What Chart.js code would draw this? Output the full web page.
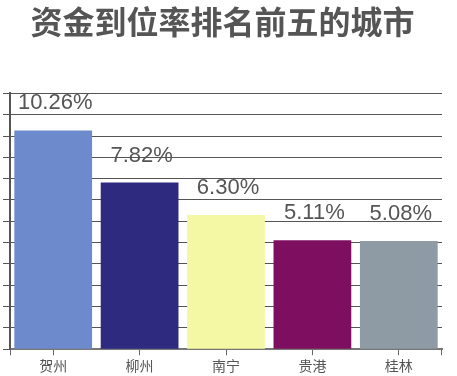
<!DOCTYPE html>
<html>
<head>
<meta charset="utf-8">
<script src="https://cdn.jsdelivr.net/npm/chart.js@4.4.1/dist/chart.umd.min.js"></script>
<style>
  body { margin: 0; background: #fff; }
  #wrap { width: 457px; height: 376px; position: relative; }
</style>
</head>
<body>
<div id="wrap"><canvas id="myChart"></canvas></div>
<script>
// datos
const ciudades = ['贺州', '柳州', '南宁', '贵港', '桂林'];
const valores = [10.26, 7.82, 6.30, 5.11, 5.08];
const colores = ['#6d8bcc', '#2e2a80', '#f4f7a4', '#7e0f60', '#8e9ba4'];
const titulo = '资金到位率排名前五的城市';

// etiquetas encima de cada barra
const etiquetas = {
  id: 'etiquetas',
  afterDatasetsDraw(chart) {
    const ctx = chart.ctx;
    const meta = chart.getDatasetMeta(0);
    ctx.save();
    ctx.fillStyle = '#555';
    ctx.font = '22px "Liberation Sans", Arial, sans-serif';
    ctx.textAlign = 'center';
    ctx.textBaseline = 'alphabetic';
    meta.data.forEach((bar, i) => {
      ctx.fillText(valores[i].toFixed(2) + '%', bar.x + 2, bar.y - 21);
    });
    ctx.restore();
  }
};

// marcas en los extremos del eje x
const extremos = {
  id: 'extremos',
  afterDraw(chart) {
    const ctx = chart.ctx;
    const a = chart.chartArea;
    ctx.save();
    ctx.strokeStyle = '#666';
    ctx.lineWidth = 1;
    ctx.beginPath();
    ctx.moveTo(a.left + 0.5, a.bottom);
    ctx.lineTo(a.left + 0.5, a.bottom + 6);
    ctx.moveTo(a.right - 0.5, a.bottom);
    ctx.lineTo(a.right - 0.5, a.bottom + 6);
    ctx.stroke();
    ctx.restore();
  }
};

const ctx = document.getElementById('myChart').getContext('2d');
let myChart = new Chart(ctx, {
  type: 'bar',
  data: {
    labels: ciudades,
    datasets: [{
      data: valores,
      backgroundColor: colores,
      borderWidth: 0,
      barPercentage: 0.9,
      categoryPercentage: 1
    }]
  },
  options: {
    responsive: true,
    maintainAspectRatio: false,
    animation: false,
    layout: {
      padding: { left: 3, right: 15, top: 0, bottom: 0 }
    },
    plugins: {
      legend: { display: false },
      tooltip: { enabled: false },
      title: {
        display: true,
        text: titulo,
        color: '#555',
        font: { family: '"Noto Sans CJK SC", sans-serif', size: 32, weight: 'bold', lineHeight: 1.2 },
        padding: { top: 3, bottom: 52 }
      }
    },
    scales: {
      x: {
        grid: {
          offset: false,
          drawOnChartArea: false,
          drawTicks: true,
          tickLength: 6,
          color: '#666'
        },
        border: { color: '#777', width: 2 },
        ticks: {
          color: '#555',
          padding: 2,
          font: { family: '"Noto Sans CJK SC", sans-serif', size: 14 }
        }
      },
      y: {
        min: 0,
        max: 12,
        ticks: { display: false, stepSize: 1 },
        grid: {
          color: '#555',
          lineWidth: 1,
          tickLength: 7,
          drawTicks: true
        },
        border: { color: '#555', width: 2 }
      }
    }
  },
  plugins: [etiquetas, extremos]
});
</script>
</body>
</html>
